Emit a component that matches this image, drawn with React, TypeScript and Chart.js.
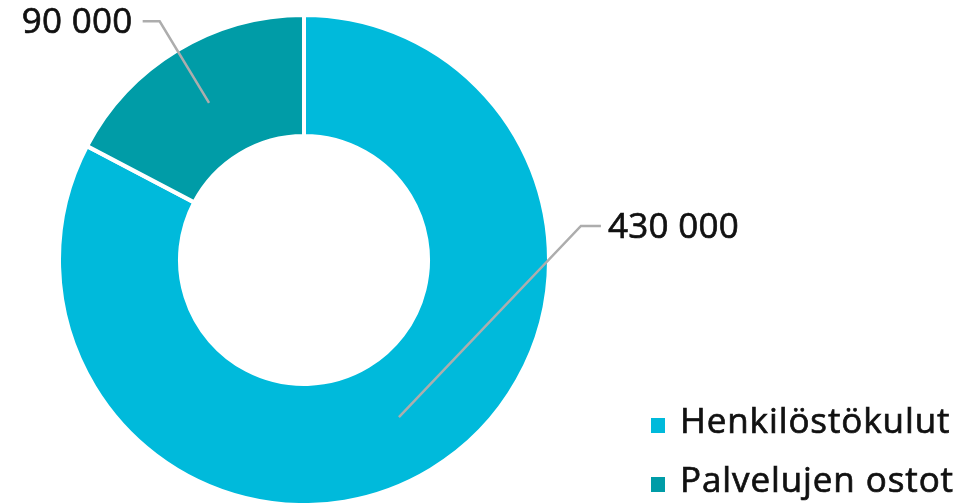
import React, { useEffect, useRef } from "react";
import { Chart, registerables } from "chart.js";

Chart.register(...registerables);

const categories = ["Henkilöstökulut", "Palvelujen ostot"];
const values = [430000, 90000];
const colors = ["#00badb", "#009ca7"];
// angle (degrees clockwise from top) at which each label's elbow sits; null = slice middle
const labelAngles: (number | null)[] = [83, null];

const FONT = "'Open Sans', 'Noto Sans', sans-serif";

function fmt(v: number): string {
  return String(v).replace(/\B(?=(\d{3})+(?!\d))/g, " ");
}

function boldText(ctx: any, text: string, x: number, y: number) {
  ctx.fillText(text, x, y);
  ctx.lineWidth = 0.7;
  ctx.strokeStyle = ctx.fillStyle;
  ctx.strokeText(text, x, y);
}

const labelPlugin = {
  id: "leaderLabels",
  afterDraw(chart: any) {
    const ctx = chart.ctx;
    const meta = chart.getDatasetMeta(0);
    ctx.save();
    meta.data.forEach((arc: any, i: number) => {
      const { x, y, startAngle, endAngle, innerRadius, outerRadius } = arc.getProps(
        ["x", "y", "startAngle", "endAngle", "innerRadius", "outerRadius"],
        true
      );
      const mid = (startAngle + endAngle) / 2;
      const rMid = (innerRadius + outerRadius) / 2 - 1;
      const sx = x + Math.cos(mid) * rMid;
      const sy = y + Math.sin(mid) * rMid;
      const la = labelAngles[i];
      const ang = la === null ? mid : (la * Math.PI) / 180 - Math.PI / 2;
      const rLab = outerRadius + 34;
      const ex = x + Math.cos(ang) * rLab;
      const ey = y + Math.sin(ang) * rLab;
      const right = Math.cos(ang) >= 0;
      const hx = ex + (right ? 20 : -17);
      ctx.strokeStyle = "#adadad";
      ctx.lineWidth = 2.5;
      ctx.beginPath();
      ctx.moveTo(sx, sy);
      ctx.lineTo(ex, ey);
      ctx.lineTo(hx, ey);
      ctx.stroke();
      ctx.fillStyle = "#111111";
      ctx.font = `35px ${FONT}`;
      ctx.letterSpacing = "0.3px";
      ctx.textBaseline = "middle";
      ctx.textAlign = right ? "left" : "right";
      boldText(ctx, fmt(values[i]), hx + (right ? 7 : -10), ey + 2);
    });

    // legend
    const lx = 651;
    const rows = [433, 492];
    categories.forEach((c, i) => {
      ctx.fillStyle = colors[i];
      ctx.fillRect(lx, rows[i] - 15, 14, 15);
      ctx.fillStyle = "#111111";
      ctx.font = `35px ${FONT}`;
      ctx.letterSpacing = "0.9px";
      ctx.textAlign = "left";
      ctx.textBaseline = "alphabetic";
      boldText(ctx, c, 680, rows[i]);
    });
    ctx.restore();
  },
};

export default function App() {
  const ref = useRef<HTMLCanvasElement | null>(null);
  useEffect(() => {
    if (!ref.current) return;
    const chart = new Chart(ref.current, {
      type: "doughnut",
      data: {
        labels: categories,
        datasets: [
          {
            data: values,
            backgroundColor: colors,
            borderColor: "#ffffff",
            borderWidth: 4,
            hoverOffset: 0,
          },
        ],
      },
      options: {
        responsive: true,
        maintainAspectRatio: false,
        animation: false,
        radius: 245,
        cutout: 122,
        layout: { padding: { left: 0, right: 372, top: 17, bottom: 0 } },
        plugins: {
          legend: { display: false },
          tooltip: { enabled: false },
        },
      } as any,
      plugins: [labelPlugin],
    });
    return () => chart.destroy();
  }, []);
  return (
    <div style={{ position: "absolute", left: 0, top: 0, width: 980, height: 503 }}>
      <canvas ref={ref} />
    </div>
  );
}
